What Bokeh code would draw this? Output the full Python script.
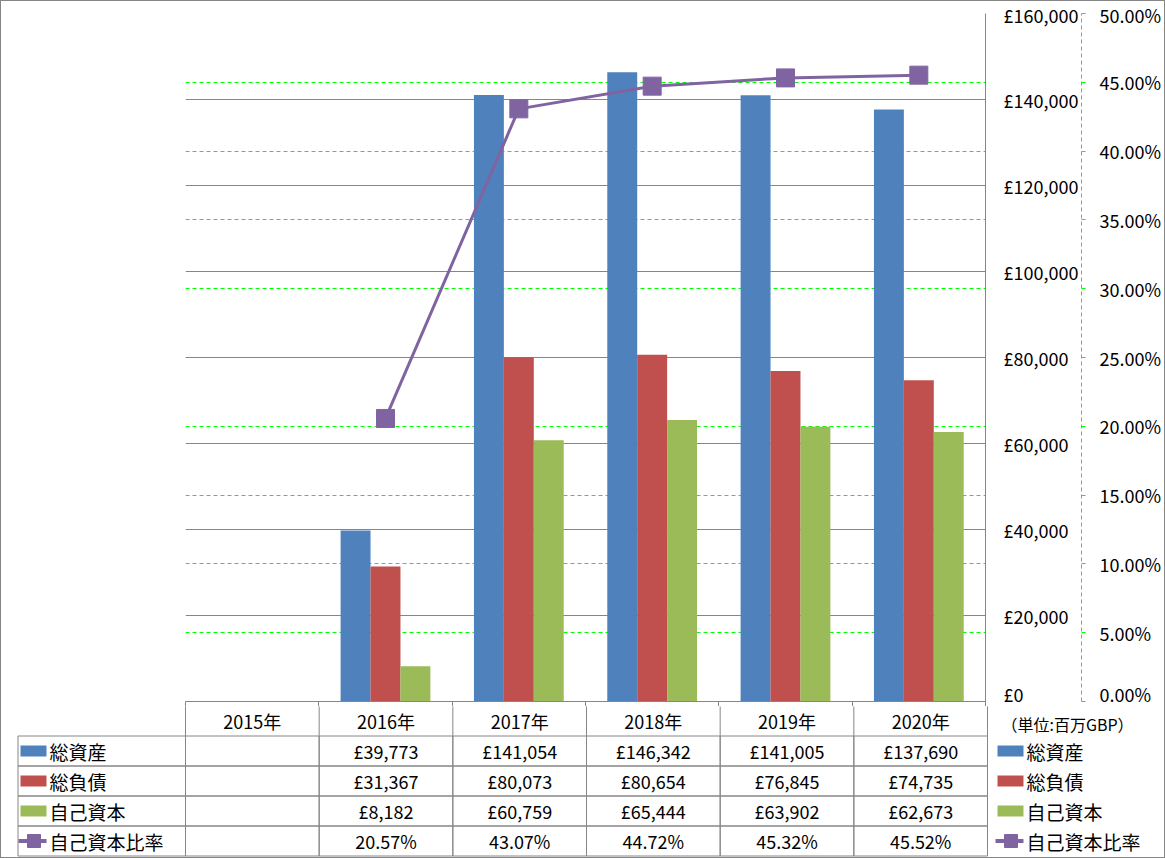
from bokeh.plotting import figure
from bokeh.layouts import column
from bokeh.models import (Range1d, LinearAxis, FixedTicker, PrintfTickFormatter, Grid,
                          ColumnDataSource)
from bokeh.core.properties import value
from bokeh.embed import file_html
from bokeh.resources import INLINE

# ---------------- data ----------------
years = ["2015年", "2016年", "2017年", "2018年", "2019年", "2020年"]
total_assets = [None, 39773, 141054, 146342, 141005, 137690]
total_liabilities = [None, 31367, 80073, 80654, 76845, 74735]
equity = [None, 8182, 60759, 65444, 63902, 62673]
equity_ratio = [None, 20.57, 43.07, 44.72, 45.32, 45.52]
series_names = ["総資産", "総負債", "自己資本", "自己資本比率"]
left_ticks = [0, 20000, 40000, 60000, 80000, 100000, 120000, 140000, 160000]
right_ticks = [0, 5, 10, 15, 20, 25, 30, 35, 40, 45, 50]
unit_note = "（単位:百万GBP）"

BLUE, RED, GREEN, PURPLE = "#4F81BD", "#C0504D", "#9BBB59", "#8064A2"
GRAY = "#868686"
LIME = "#00FF00"
FONT = "Noto Sans CJK JP"
FS_NUM = "18px"
FS_CJK = "19px"

# ---------------- layout (page pixels) ----------------
FL, FR, FT, FB = 185, 987, 13, 701
W = 1163
B = 706                      # boundary between chart canvas and table canvas
BOTTOM = 857
PPX = (FR - FL) / 6.0
YMAX = 160000
N = len(years)
col_edges = [k - 0.5 for k in range(N + 1)]


def XD(px):
    return -0.5 + (px - FL) / PPX


# ================= chart =================
p = figure(width=W, height=B - 1, output_backend="svg", toolbar_location=None,
           x_range=Range1d(-0.5, N - 0.5), y_range=Range1d(0, YMAX),
           x_axis_location=None, y_axis_location="right", frame_align=False,
           min_border_left=FL - 1, min_border_right=(W + 1) - FR,
           min_border_top=FT - 1, min_border_bottom=B - FB)
p.outline_line_color = None
p.background_fill_color = "white"
p.border_fill_color = "white"
p.xgrid.visible = False
p.ygrid.grid_line_color = GRAY
p.ygrid.ticker = FixedTicker(ticks=left_ticks)

ya = p.yaxis[0]
ya.ticker = FixedTicker(ticks=left_ticks)
ya.major_label_overrides = {t: "£{:,}".format(t) for t in left_ticks}
ya.axis_line_color = GRAY
ya.major_tick_line_color = None
ya.major_tick_out = 0
ya.major_tick_in = 0
ya.minor_tick_line_color = None
ya.major_label_standoff = 18
ya.major_label_text_font = FONT
ya.major_label_text_font_size = FS_NUM
ya.major_label_text_color = "black"

p.extra_y_ranges = {"pct": Range1d(0, 50)}
ax2 = LinearAxis(y_range_name="pct", ticker=FixedTicker(ticks=right_ticks),
                 formatter=PrintfTickFormatter(format="%.2f%%"))
ax2.axis_line_color = LIME
ax2.axis_line_dash = "4 3"
ax2.major_tick_line_color = LIME
ax2.major_tick_out = 4
ax2.major_tick_in = 0
ax2.minor_tick_line_color = None
ax2.major_label_standoff = 14
ax2.major_label_text_font = FONT
ax2.major_label_text_font_size = FS_NUM
ax2.major_label_text_color = "black"
p.add_layout(ax2, "right")

# category axis: its line is the top of the data table, minor ticks are the column dividers
xa = LinearAxis(ticker=FixedTicker(ticks=[], minor_ticks=col_edges))
xa.axis_line_color = GRAY
xa.major_tick_line_color = None
xa.major_tick_out = 0
xa.major_label_standoff = 0
xa.minor_tick_line_color = GRAY
xa.minor_tick_out = B - FB
xa.minor_tick_in = 0
p.add_layout(xa, "below")

g2 = Grid(dimension=1, ticker=FixedTicker(ticks=right_ticks), y_range_name="pct",
          grid_line_color=LIME, grid_line_dash="4 3")
p.center = [g2] + list(p.center)

BW = 30 / PPX
series = [(total_assets, BLUE, -BW), (total_liabilities, RED, 0.0), (equity, GREEN, BW)]
for vals, col, off in series:
    xs = [i + off for i, v in enumerate(vals) if v is not None]
    tops = [v for v in vals if v is not None]
    p.vbar(x=xs, top=tops, width=BW, bottom=0, fill_color=col, line_color=None)

lx = [i for i, v in enumerate(equity_ratio) if v is not None]
ly = [v for v in equity_ratio if v is not None]
p.line(lx, ly, y_range_name="pct", line_color=PURPLE, line_width=3)
p.scatter(lx, ly, y_range_name="pct", marker="square", size=18,
          fill_color=PURPLE, line_color=PURPLE)

# ================= data table =================
# x in category units (same scale as chart), y in page pixels (flipped)
t = figure(width=W, height=BOTTOM - B, output_backend="svg", toolbar_location=None,
           x_range=Range1d(XD(1), XD(W + 1)), y_range=Range1d(BOTTOM, B),
           x_axis_location=None, y_axis_location=None, frame_align=False,
           min_border_left=0, min_border_right=0, min_border_top=0, min_border_bottom=0)
t.outline_line_color = None
t.grid.visible = False
t.background_fill_color = "white"
t.border_fill_color = "white"

RY = [701.5, 735.5, 765.5, 795.5, 825.5, 855.5]
row_c = [(RY[r] + RY[r + 1]) / 2.0 for r in range(1, 5)]

# header column dividers (continuing the axis minor ticks)
t.segment(x0=col_edges, x1=col_edges, y0=[B - 2] * len(col_edges), y1=[RY[1]] * len(col_edges),
          line_color=GRAY, line_width=1)

ql, qr, qt, qb = [], [], [], []
for r in range(1, 5):
    ql.append(XD(17.5)); qr.append(-0.5); qt.append(RY[r]); qb.append(RY[r + 1])
    for k in range(N):
        ql.append(k - 0.5); qr.append(k + 0.5); qt.append(RY[r]); qb.append(RY[r + 1])
t.quad(left=ql, right=qr, top=qt, bottom=qb, fill_color=None, line_color=GRAY, line_width=1)

txt = dict(text_font=value(FONT), text_color="black", text_baseline="middle")

hdr = ColumnDataSource(dict(x=list(range(N)), y=[720.5] * N, s=years))
t.text(x="x", y="y", text="s", source=hdr, text_align="center",
       text_font_size=value(FS_NUM), **txt)

cx, cy, ct = [], [], []
for r, vals in enumerate([total_assets, total_liabilities, equity]):
    for i, v in enumerate(vals):
        if v is not None:
            cx.append(i); cy.append(row_c[r]); ct.append("£{:,}".format(v))
for i, v in enumerate(equity_ratio):
    if v is not None:
        cx.append(i); cy.append(row_c[3]); ct.append("{:.2f}%".format(v))
cells = ColumnDataSource(dict(x=cx, y=cy, s=ct))
t.text(x="x", y="y", text="s", source=cells, text_align="center",
       text_font_size=value(FS_NUM), **txt)

names_src = ColumnDataSource(dict(x=[XD(49)] * 4 + [XD(1026)] * 4,
                                  y=row_c * 2, s=series_names * 2))
t.text(x="x", y="y", text="s", source=names_src, text_align="left",
       text_font_size=value(FS_CJK), **txt)

for sx0, sx1, mx in [(20, 46, 33.5), (997, 1023, 1010.5)]:
    for r, col in enumerate([BLUE, RED, GREEN]):
        c = row_c[r]
        t.quad(left=XD(sx0), right=XD(sx1), top=c - 5.5, bottom=c + 5.5,
               fill_color=col, line_color=None)
    c = row_c[3]
    t.quad(left=XD(sx0 - 2), right=XD(sx1), top=c - 2, bottom=c + 2,
           fill_color=PURPLE, line_color=None)
    t.scatter(x=[XD(mx)], y=[c], marker="square", size=13,
              fill_color=PURPLE, line_color=PURPLE)

t.text(x=[XD(1001)], y=[723], text=[unit_note], text_font=value(FONT),
       text_font_size=value("16px"), text_color="black", text_baseline="middle",
       text_align="left")

layout = column(p, t, spacing=0, styles={"border": "1px solid #868686"})
open("out.html", "w").write(file_html(layout, INLINE))
